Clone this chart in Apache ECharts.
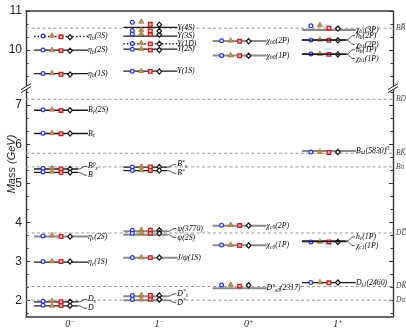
<!DOCTYPE html>
<html>
<head>
<meta charset="utf-8">
<script src="https://cdn.jsdelivr.net/npm/echarts@6/dist/echarts.min.js"></script>
<style>
  html, body { margin: 0; padding: 0; background: #fff; }
  #main { width: 406px; height: 328px; }
</style>
</head>
<body>
<div id="main"></div>
<script>
// J^P columns
const categories = ['0{sp|−}', '1{sp|−}', '0{sp|+}', '1{sp|+}'];

// states: label (_{} = subscript, ^{} = superscript), column, measured mass (GeV), seen in experiment
const stateNames = [
  'η_{b}(3S)', 'η_{b}(2S)', 'η_{b}(1S)', 'B_{c}(2S)', 'B_{c}', 'B^{0}_{s}', 'B',
  'η_{c}(2S)', 'η_{c}(1S)', 'D_{s}', 'D',
  'Υ(4S)', 'Υ(3S)', 'Υ(2D)', 'Υ(1D)', 'Υ(2S)', 'Υ(1S)', 'B^{*}_{s}', 'B^{*}',
  'ψ(3770)', 'ψ(2S)', 'J/ψ(1S)', 'D^{*}_{s}', 'D^{*}',
  'χ_{b0}(2P)', 'χ_{b0}(1P)', 'χ_{c0}(2P)', 'χ_{c0}(1P)', 'D^{*}_{s0}(2317)',
  'χ_{b1}(3P)', 'h_{b}(2P)', 'χ_{b1}(2P)', 'h_{b}(1P)', 'χ_{b1}(1P)',
  'B_{s1}(5830)^{0}', 'h_{c}(1P)', 'χ_{c1}(1P)', 'D_{s1}(2460)'
];
const stateColumn = [
  0, 0, 0, 0, 0, 0, 0, 0, 0, 0, 0,
  1, 1, 1, 1, 1, 1, 1, 1, 1, 1, 1, 1, 1,
  2, 2, 2, 2, 2,
  3, 3, 3, 3, 3, 3, 3, 3, 3
];
const stateMass = [
  10.35, 9.999, 9.399, 6.871, 6.275, 5.367, 5.280,
  3.638, 2.984, 1.968, 1.867,
  10.579, 10.355, null, 10.164, 10.023, 9.460, 5.415, 5.325,
  3.773, 3.686, 3.097, 2.112, 2.010,
  10.233, 9.859, 3.918, 3.415, 2.318,
  10.513, 10.260, 10.255, 9.899, 9.893,
  5.829, 3.525, 3.511, 2.460
];
const stateSeen = [
  false, true, true, true, true, true, true,
  true, true, true, true,
  true, true, false, false, true, true, true, true,
  true, true, true, true, true,
  true, true, true, true, true,
  true, true, true, true, true,
  true, true, true, true
];

// predictions of the four models (GeV)
const modelBlue = [
  10.36, 10.00, 9.40, 6.885, 6.285, 5.38, 5.29,
  3.655, 3.00, 1.98, 1.88,
  10.71, 10.41, 10.50, 10.17, 10.02, 9.46, 5.42, 5.33,
  3.80, 3.72, 3.10, 2.13, 2.03,
  10.24, 9.86, 3.93, 3.42, 2.40,
  10.62, 10.26, null, 9.90, null,
  5.80, 3.50, null, 2.46
];
const modelTan = [
  10.37, 10.00, 9.41, 6.89, 6.29, 5.39, 5.30,
  3.67, 3.01, 1.99, 1.87,
  10.73, 10.42, 10.52, 10.18, 10.03, 9.465, 5.43, 5.34,
  3.81, 3.73, 3.11, 2.14, 2.04,
  10.245, 9.865, 3.94, 3.43, 2.41,
  10.64, 10.27, null, 9.905, null,
  5.81, 3.51, null, 2.47
];
const modelRed = [
  10.34, 9.985, 9.38, 6.865, 6.27, 5.37, 5.28,
  3.64, 3.00, 1.97, 1.87,
  10.66, 10.40, 10.49, 10.16, 10.00, 9.455, 5.42, 5.33,
  3.80, 3.72, 3.10, 2.13, 2.03,
  10.225, 9.855, 3.92, 3.41, 2.37,
  10.56, 10.25, null, 9.89, null,
  5.79, 3.50, null, 2.455
];
const modelBlack = [
  10.33, 9.98, 9.375, 6.87, 6.275, 5.37, 5.28,
  3.64, 3.00, 1.97, 1.87,
  10.65, 10.40, 10.49, 10.16, 10.00, 9.45, 5.42, 5.33,
  3.80, 3.72, 3.10, 2.13, 2.03,
  10.225, 9.855, 3.92, 3.41, 2.39,
  10.55, 10.25, null, 9.89, null,
  5.80, 3.50, null, 2.46
];

// open-flavour thresholds
const thresholdNames = ['BB\u0305', 'BD', 'BK\u0305', 'Bπ', 'DD\u0305', 'DK\u0305', 'Dπ'];
const thresholdMass = [10.56, 7.15, 5.77, 5.42, 3.73, 2.36, 2.01];

// mass axis labels (GeV)
const massTicks = [2, 3, 4, 5, 6, 7, 10, 11];

// broken axis: upper (bottomonium) part is shifted down
const SHIFT = 1.59;
const BREAK_LOW = 7.437;
const disp = m => (m > 8.5 ? m - SHIFT : m);

const greyLevels = ['η_{c}(2S)', 'ψ(3770)', 'ψ(2S)', 'J/ψ(1S)', 'D^{*}_{s}', 'D^{*}',
  'χ_{b0}(2P)', 'χ_{b0}(1P)', 'χ_{c0}(2P)', 'χ_{c0}(1P)', 'D^{*}_{s0}(2317)',
  'χ_{b1}(3P)', 'B_{s1}(5830)^{0}'];

const SERIF = '"Liberation Serif", "DejaVu Serif", serif';
const SANS = '"Liberation Sans", Arial, sans-serif';

function richName(s) {
  let out = '';
  s.replace(/([_^])\{([^}]*)\}|([^_^]+)/g, (m, t, c, plain) => {
    if (plain) out += '{n|' + plain + '}';
    else out += '{' + (t === '_' ? 'sb' : 'sp') + '|' + c + '}';
    return m;
  });
  return out;
}
const labelRich = {
  n: { fontSize: 7.8, lineHeight: 10, fontFamily: SERIF, fontStyle: 'italic', color: '#444' },
  sb: { fontSize: 5.5, lineHeight: 5, fontFamily: SERIF, fontStyle: 'italic', color: '#444', verticalAlign: 'bottom' },
  sp: { fontSize: 5.5, lineHeight: 5, fontFamily: SERIF, fontStyle: 'italic', color: '#444', verticalAlign: 'top' }
};

// doublet partner (close levels in one column share a fork)
const partner = stateMass.map((m, i) => {
  if (m == null) return -1;
  let best = -1, bd = 0.12;
  stateMass.forEach((m2, j) => {
    if (j !== i && m2 != null && stateColumn[j] === stateColumn[i] && Math.abs(m2 - m) < bd) {
      bd = Math.abs(m2 - m); best = j;
    }
  });
  return best;
});

const models = [modelBlue, modelTan, modelRed, modelBlack];
const modelDx = [-27, -18, -9, 0];

function marker(k, x, y) {
  if (k === 0) return { type: 'circle', shape: { cx: x, cy: y, r: 1.9 }, style: { fill: '#fff', stroke: '#1b2fff', lineWidth: 1.2 } };
  if (k === 1) return { type: 'polygon', shape: { points: [[x, y - 3], [x - 2.7, y + 1.7], [x + 2.7, y + 1.7]] }, style: { fill: '#c4904f', stroke: '#9c6a30', lineWidth: 0.6 } };
  if (k === 2) return { type: 'rect', shape: { x: x - 1.8, y: y - 1.8, width: 3.6, height: 3.6 }, style: { fill: '#f2c4c4', stroke: '#d41818', lineWidth: 1.3 } };
  return { type: 'polygon', shape: { points: [[x, y - 2.6], [x + 2.3, y], [x, y + 2.6], [x - 2.3, y]] }, style: { fill: '#fff', stroke: '#111', lineWidth: 1.2 } };
}

function renderLevel(params, api) {
  const i = params.dataIndex;
  const c = api.coord([api.value(0), api.value(1)])[0];
  const children = [];
  const m = stateMass[i];
  if (m != null) {
    const y = api.coord([0, disp(m)])[1];
    const pj = partner[i];
    const grey = greyLevels.indexOf(stateNames[i]) >= 0;
    const end = pj >= 0 ? c + 8 : c + 18;
    children.push({
      type: 'line',
      shape: { x1: c - 36, y1: y, x2: end, y2: y },
      style: {
        stroke: stateSeen[i] ? (grey ? '#8a8a8a' : '#1a1a1a') : '#222',
        lineWidth: stateSeen[i] ? (grey ? 2 : 1.3) : 1.5,
        lineDash: stateSeen[i] ? null : [1.5, 2]
      }
    });
    let ly = y;
    if (pj >= 0) {
      const py = api.coord([0, disp(stateMass[pj])])[1];
      const up = m > stateMass[pj];
      ly = (y + py) / 2 + (up ? -4.5 : 4.5);
      children.push({
        type: 'bezierCurve',
        shape: { x1: c + 8, y1: y, cpx1: c + 13, cpy1: y, cpx2: c + 11, cpy2: ly, x2: c + 17, y2: ly },
        style: { stroke: '#333', fill: null, lineWidth: 0.9 }
      });
    }
    children.push({
      type: 'text', x: c + 18, y: ly,
      style: { text: richName(stateNames[i]), rich: labelRich, align: 'left', verticalAlign: 'middle' }
    });
  }
  models.forEach((arr, k) => {
    if (arr[i] == null) return;
    const y = api.coord([0, disp(arr[i])])[1];
    children.push(marker(k, c + modelDx[k], y));
  });
  return { type: 'group', children };
}

function renderThreshold(params, api) {
  const cs = params.coordSys;
  const y = api.coord([0, api.value(1)])[1];
  return {
    type: 'group',
    children: [
      { type: 'line', shape: { x1: cs.x, y1: y, x2: cs.x + cs.width, y2: y },
        style: { stroke: '#999', lineWidth: 1, lineDash: [3, 2.5] } },
      { type: 'text', x: cs.x + cs.width + 3, y: y,
        style: { text: thresholdNames[params.dataIndex], font: 'italic 7.5px ' + SERIF, fill: '#444', align: 'left', verticalAlign: 'middle' } }
    ]
  };
}

const majorDisp = massTicks.map(disp);
const minorDisp = [];
for (let k = 5; k <= 32; k++) {
  const m = k / 3;
  if (k % 3 !== 0 && (m < BREAK_LOW - 0.01 || m > 9.05)) minorDisp.push(disp(m));
}

const X_MIN = -0.493, X_MAX = 3.617, Y_MIN = 1.58, Y_MAX = 9.41;
const axisColor = '#333';

function yAxisDef(pos, ticks, len, main) {
  return {
    type: 'value', min: Y_MIN, max: Y_MAX, position: pos,
    axisLine: { show: len > 3, onZero: false, lineStyle: { color: axisColor, width: 1.4 } },
    axisTick: { show: true, inside: true, length: len, customValues: ticks, lineStyle: { color: axisColor, width: 1 } },
    axisLabel: {
      show: main, customValues: ticks, margin: 4,
      fontFamily: SANS, fontSize: 12, color: '#222',
      formatter: v => String(Math.round(v > 8 ? v + SHIFT : v))
    },
    splitLine: { show: false }
  };
}

const chart = echarts.init(document.getElementById('main'));
chart.setOption({
  animation: false,
  grid: { left: 26, right: 13, top: 11, bottom: 11, containLabel: false, outerBoundsMode: 'none' },
  xAxis: [
    {
      type: 'value', min: X_MIN, max: X_MAX, position: 'bottom',
      axisLine: { onZero: false, lineStyle: { color: '#666', width: 1.8 } },
      axisTick: { show: false }, splitLine: { show: false },
      axisLabel: {
        customValues: [0, 1, 2, 3], margin: 2,
        formatter: v => '{n|' + categories[Math.round(v)].replace(/\{sp\|([^}]*)\}/, '}{sp|$1}'),
        rich: {
          n: { fontFamily: SERIF, fontStyle: 'italic', fontSize: 10, color: '#222', lineHeight: 10 },
          sp: { fontFamily: SERIF, fontStyle: 'italic', fontSize: 6.5, color: '#222', lineHeight: 6, verticalAlign: 'top' }
        }
      }
    },
    {
      type: 'value', min: X_MIN, max: X_MAX, position: 'top',
      axisLine: { onZero: false, lineStyle: { color: '#666', width: 1.8 } },
      axisTick: { show: false }, axisLabel: { show: false }, splitLine: { show: false }
    }
  ],
  yAxis: [
    yAxisDef('left', majorDisp, 4, true),
    yAxisDef('left', minorDisp, 2.5, false),
    yAxisDef('right', majorDisp, 4, false),
    yAxisDef('right', minorDisp, 2.5, false)
  ],
  series: [
    {
      type: 'custom', name: 'thresholds', z: 1,
      renderItem: renderThreshold,
      data: thresholdMass.map(m => [0, disp(m)])
    },
    {
      type: 'custom', name: 'levels', z: 2,
      renderItem: renderLevel,
      data: stateNames.map((n, i) => [stateColumn[i], disp(stateMass[i] != null ? stateMass[i] : modelBlue[i])])
    }
  ]
});

// axis break marks and axis title
const yb = chart.convertToPixel({ yAxisIndex: 0 }, BREAK_LOW);
const xl = chart.convertToPixel({ xAxisIndex: 0 }, X_MIN);
const xr = chart.convertToPixel({ xAxisIndex: 0 }, X_MAX);
const yMid = (chart.convertToPixel({ yAxisIndex: 0 }, Y_MIN) + chart.convertToPixel({ yAxisIndex: 0 }, Y_MAX)) / 2;
const breakMark = x => [
  { type: 'rect', z: 100, shape: { x: x - 2, y: yb - 2, width: 4, height: 3 }, style: { fill: '#fff' } },
  { type: 'line', z: 101, shape: { x1: x - 5, y1: yb + 1.5, x2: x + 5, y2: yb - 4.5 }, style: { stroke: '#222', lineWidth: 1 } },
  { type: 'line', z: 101, shape: { x1: x - 5, y1: yb + 4.5, x2: x + 5, y2: yb - 1.5 }, style: { stroke: '#222', lineWidth: 1 } }
];
chart.setOption({
  graphic: breakMark(xl).concat(breakMark(xr)).concat([{
    type: 'text', x: 12, y: yMid, rotation: Math.PI / 2, z: 100,
    style: { text: 'Mass (GeV)', font: 'italic 11px ' + SANS, fill: '#222', align: 'center', verticalAlign: 'middle' }
  }])
});
</script>
</body>
</html>
